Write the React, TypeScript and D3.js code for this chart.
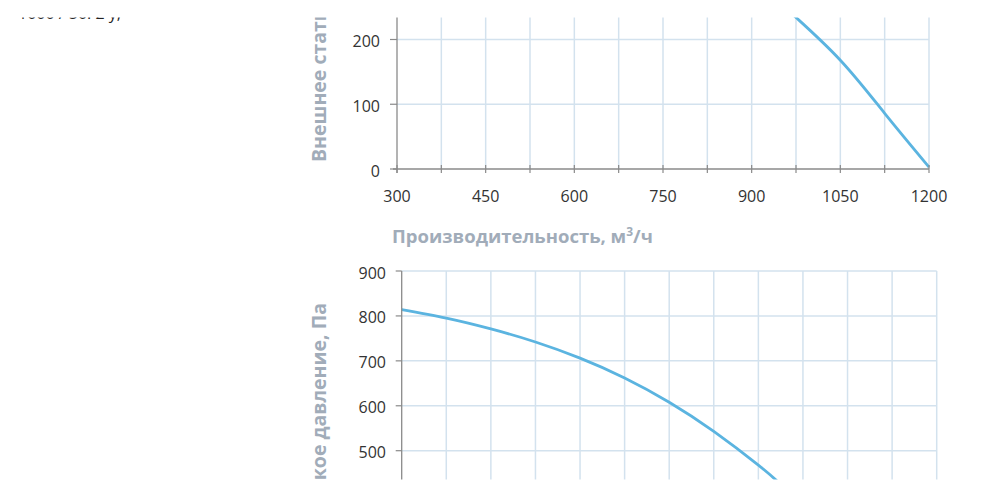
import React from "react";
import * as d3 from "d3";

const W = 986;
const H = 498;

// Top chart: external static pressure vs flow
const topFlow = [940, 975, 1050, 1125, 1200];
const topPressure = [264, 234, 168, 86, 3];
const topYTicks = [0, 100, 200];

// Bottom chart
const bottomFlow = [300, 375, 450, 525, 600, 675, 750, 825, 900, 931, 960];
const bottomPressure = [814, 795, 771, 742, 706, 662, 608, 543, 468, 433, 398];
const bottomYTicks = [500, 600, 700, 800, 900];

const xTicks = [300, 375, 450, 525, 600, 675, 750, 825, 900, 975, 1050, 1125, 1200];
const xLabelTicks = [300, 450, 600, 750, 900, 1050, 1200];

const xTitle = "Производительность, м";
const yTitle = "Внешнее статическое давление, Па";
const topText = "1000 / 50. 2 у,";

const GRID = "#d3e2ee";
const AXIS = "#8a8a8a";
const CURVE = "#5bb4e0";
const TITLE = "#a1acb9";
const LABEL = "#333333";
const FONT = "'Open Sans', 'DejaVu Sans', sans-serif";

export default function App() {
  // top chart scales
  const xT = d3.scaleLinear().domain([300, 1200]).range([397, 929]);
  const yT = d3.scaleLinear().domain([0, 200]).range([169, 39.5]);
  // bottom chart scales
  const xB = d3.scaleLinear().domain([300, 1200]).range([401.7, 936.7]);
  const yB = d3.scaleLinear().domain([500, 900]).range([450.7, 271]);

  const lineT = d3
    .line<number>()
    .x((_, i) => xT(topFlow[i]))
    .y((d) => yT(d))
    .curve(d3.curveNatural);
  const lineB = d3
    .line<number>()
    .x((_, i) => xB(bottomFlow[i]))
    .y((d) => yB(d))
    .curve(d3.curveNatural);

  const topMax = yT.invert(0);

  return (
    <svg
      width={W}
      height={H}
      style={{ position: "absolute", left: 0, top: 0, background: "#fff" }}
      fontFamily={FONT}
    >
      <rect width={W} height={H} fill="#fff" />
      <text x={18} y={19} fontSize={16} fill="#222">
        {topText}
      </text>

      {/* ---------- Top chart ---------- */}
      <g>
        {xTicks.slice(1).map((t) => (
          <line key={"tv" + t} x1={xT(t)} x2={xT(t)} y1={yT(topMax)} y2={yT(0)} stroke={GRID} strokeWidth={1.5} />
        ))}
        {topYTicks.slice(1).map((t) => (
          <line key={"th" + t} x1={xT(300)} x2={xT(1200)} y1={yT(t)} y2={yT(t)} stroke={GRID} strokeWidth={1.5} />
        ))}
        <path d={lineT(topPressure) || ""} fill="none" stroke={CURVE} strokeWidth={2.8} />
        <line x1={xT(300)} x2={xT(300)} y1={yT(topMax)} y2={yT(0) + 4} stroke={AXIS} strokeWidth={1.3} />
        <line x1={xT(300) - 4} x2={xT(1200)} y1={yT(0)} y2={yT(0)} stroke={AXIS} strokeWidth={1.3} />
        {xTicks.map((t) => (
          <line key={"tx" + t} x1={xT(t)} x2={xT(t)} y1={yT(0) - 4} y2={yT(0) + 4} stroke={AXIS} strokeWidth={1.2} />
        ))}
        {topYTicks.map((t) => (
          <line key={"ty" + t} x1={xT(300) - 7} x2={xT(300)} y1={yT(t)} y2={yT(t)} stroke={AXIS} strokeWidth={1.2} />
        ))}
        {topYTicks.map((t) => (
          <text key={"tyl" + t} x={380} y={yT(t) + 1.5} textAnchor="end" dominantBaseline="central" fontSize={16} fill={LABEL}>
            {t}
          </text>
        ))}
        {xLabelTicks.map((t) => (
          <text key={"txl" + t} x={xT(t)} y={195.5} textAnchor="middle" dominantBaseline="central" fontSize={16} fill={LABEL}>
            {t}
          </text>
        ))}
        <text x={392} y={243} fontSize={18.5} fontWeight={700} fill={TITLE}>
          {xTitle}
          <tspan dy={-7} fontSize={12}>3</tspan>
          <tspan dy={7}>/ч</tspan>
        </text>
        <text
          transform={`translate(326,162) rotate(-90)`}
          textAnchor="start"
          fontSize={19.5}
          fontWeight={700}
          fill={TITLE}
        >
          {yTitle}
        </text>
      </g>

      {/* ---------- Bottom chart ---------- */}
      <g>
        {xTicks.slice(1).map((t) => (
          <line key={"bv" + t} x1={xB(t)} x2={xB(t)} y1={yB(900)} y2={H} stroke={GRID} strokeWidth={1.5} />
        ))}
        {bottomYTicks.map((t) => (
          <line key={"bh" + t} x1={xB(300)} x2={xB(1200)} y1={yB(t)} y2={yB(t)} stroke={GRID} strokeWidth={1.5} />
        ))}
        <path d={lineB(bottomPressure) || ""} fill="none" stroke={CURVE} strokeWidth={2.8} />
        <line x1={xB(300)} x2={xB(300)} y1={yB(900)} y2={H} stroke={AXIS} strokeWidth={1.3} />
        {bottomYTicks.map((t) => (
          <line key={"by" + t} x1={xB(300) - 6} x2={xB(300)} y1={yB(t)} y2={yB(t)} stroke={AXIS} strokeWidth={1.2} />
        ))}
        {bottomYTicks.map((t) => (
          <text key={"byl" + t} x={386} y={yB(t) + 1.5} textAnchor="end" dominantBaseline="central" fontSize={16} fill={LABEL}>
            {t}
          </text>
        ))}
        <text
          transform={`translate(326,303) rotate(-90)`}
          textAnchor="end"
          fontSize={19.5}
          fontWeight={700}
          fill={TITLE}
        >
          {yTitle}
        </text>
      </g>

      {/* cropped page edges */}
      <rect x={0} y={0} width={W} height={17.5} fill="#fff" />
      <rect x={0} y={479.5} width={W} height={H - 479.5} fill="#fff" />
    </svg>
  );
}
